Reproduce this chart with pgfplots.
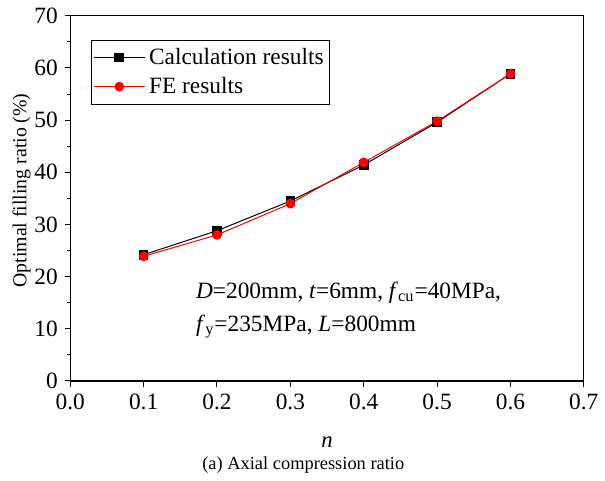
\documentclass[border=0pt]{standalone}
\usepackage{fontspec}
\setmainfont{Liberation Serif}
\usepackage{pgfplots}
\pgfplotsset{compat=1.18}

\begin{document}
\begin{tikzpicture}
\begin{axis}[
  scale only axis,
  width=259.5pt, height=184.5pt,
  xmin=0, xmax=0.7, ymin=0, ymax=70,
  xtick={0,0.1,...,0.7},
  ytick={0,10,...,70},
  minor y tick num=1,
  tick pos=left,
  tick align=outside,
  major tick length=2.8pt,
  minor tick length=1.6pt,
  axis line style={line width=0.6pt},
  every tick/.style={black, line width=0.5pt},
  xticklabel style={/pgf/number format/.cd, fixed, fixed zerofill, precision=1},
  /pgf/number format/assume math mode=true,
  tick label style={font=\fontsize{11.8}{13}\selectfont},
  xlabel={\textit{n}},
  xlabel style={font=\fontsize{11.5}{13}\selectfont, yshift=-7pt},
  ylabel={Optimal filling ratio (\%)},
  ylabel style={font=\fontsize{10}{12}\selectfont, yshift=-5pt, xshift=4pt},
  legend style={at={(rel axis cs:0,1)}, anchor=north west,
    xshift=10.5pt, yshift=-12pt,
    font=\fontsize{11.8}{13}\selectfont,
    draw=black, line width=0.5pt,
    inner xsep=1pt, inner ysep=2pt, row sep=1pt},
  legend cell align=left,
  legend image code/.code={\draw[mark repeat=2,mark phase=2,#1]
    plot coordinates {(0cm,0cm) (0.45cm,0cm) (0.9cm,0cm)};},
]
\addplot[black, line width=0.5pt, mark=square*, mark size=2.2pt]
  coordinates {(0.1,24.2) (0.2,28.8) (0.3,34.5) (0.4,41.4) (0.5,49.6) (0.6,58.9)};
\addlegendentry{Calculation results}
\addplot[red, line width=0.5pt, mark=*, mark size=2.2pt]
  coordinates {(0.1,23.9) (0.2,28.0) (0.3,34.0) (0.4,41.9) (0.5,49.8) (0.6,58.9)};
\addlegendentry{FE results}
\node[anchor=west, align=left, font=\fontsize{11.8}{16.5}\selectfont, inner sep=0pt]
  at (axis cs:0.171,13.6)
  {\textit{D}=200mm, \textit{t}=6mm, \textit{f}\textsubscript{cu}=40MPa,\\
   \textit{f}\textsubscript{y}=235MPa, \textit{L}=800mm};
\end{axis}
\node[font=\fontsize{9.3}{11}\selectfont] at ([xshift=-12pt, yshift=-42.5pt]current axis.south) {(a) Axial compression ratio};
\path (current axis.south west) ++(-35.5pt,-49pt) coordinate (bbA);
\path (current axis.north east) ++(7.5pt,8pt) coordinate (bbB);
\useasboundingbox (bbA) rectangle (bbB);
\end{tikzpicture}
\end{document}
